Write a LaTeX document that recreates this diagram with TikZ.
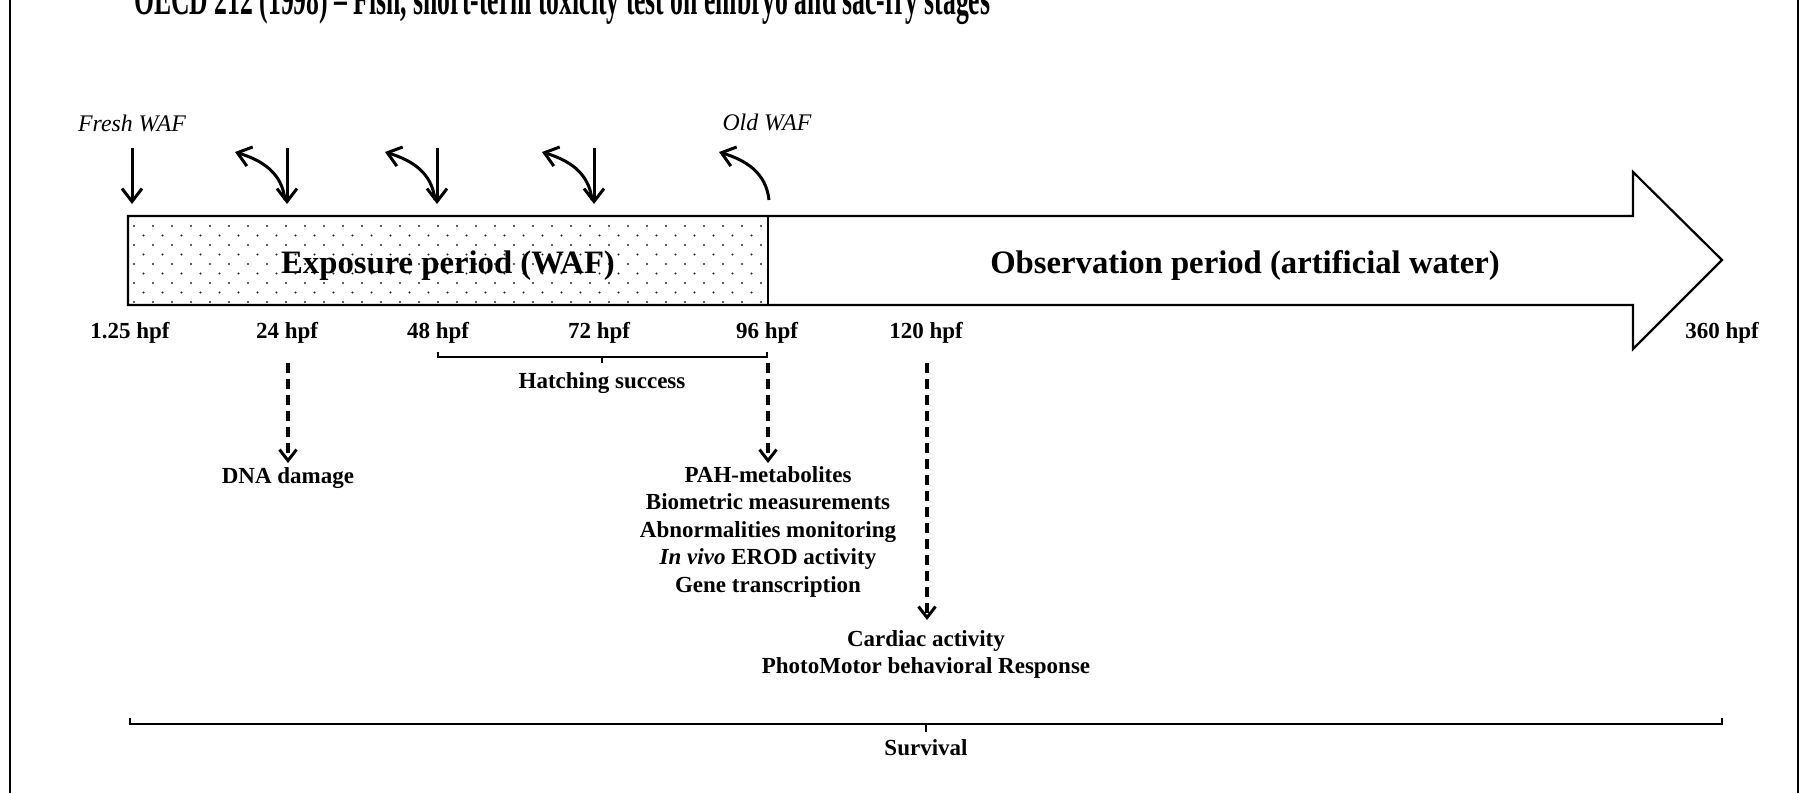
\documentclass[tikz,border=0pt]{standalone}
\usepackage{fontspec}
\setmainfont{Liberation Serif}
\usetikzlibrary{arrows.meta}
\begin{document}
\begin{tikzpicture}[x=1pt,y=-1pt,
  lbl/.style={font=\fontsize{23}{27.7}\selectfont\bfseries, inner sep=0pt, anchor=base},
  bigtxt/.style={font=\fontsize{32.7}{39}\selectfont\bfseries, inner sep=0pt, anchor=base},
  waf/.style={font=\fontsize{23.8}{28}\selectfont\itshape, inner sep=0pt, anchor=base},
  downarr/.style={line width=3pt, -{Straight Barb[length=13pt,width=20pt]}},
  backarr/.style={line width=3pt, -{Straight Barb[length=13pt,width=20pt]}},
  dasharr/.style={line width=3.4pt, dash pattern=on 10pt off 6pt, -{Straight Barb[length=11pt,width=17pt,line width=3pt]}},
  outline/.style={line width=2.2pt, line join=miter},
  bracketline/.style={line width=2.4pt},
  borderline/.style={line width=2.5pt}
]
\useasboundingbox (0,0) rectangle (1802,793);
\clip (0,0) rectangle (1802,793);

% frame side lines
\draw[borderline] (10,0) -- (10,793);
\draw[borderline] (1798,0) -- (1798,793);

% title (cut at top)
\node[inner sep=0pt, anchor=base west] (title) at (134,14)
  {\resizebox{856pt}{\height}{\fontsize{46}{54}\selectfont\bfseries OECD 212 (1998) -- Fish, short-term toxicity test on embryo and sac-fry stages}};

% dotted exposure box
\begin{scope}
\clip (128,216) rectangle (768,305);
\foreach \j in {0,...,8} {
  \pgfmathsetmacro\off{mod(\j,2)*9.5}
  \foreach \i in {0,...,34} {
    \fill[black!85] (134+\off+19*\i, 226+9.5*\j) circle (1.1);
  }
}
\end{scope}

% big arrow outline
\draw[outline] (128,216) -- (1633,216) -- (1633,172) -- (1722,260) -- (1633,349) -- (1633,305) -- (128,305) -- cycle;
\draw[outline] (768,216) -- (768,305);

\node[bigtxt] (expo) at (448,273) {Exposure period (WAF)};
\node[bigtxt] (obs) at (1245,273) {Observation period (artificial water)};

% WAF labels
\node[waf] (fresh) at (132,131) {Fresh WAF};
\node[waf] (old) at (767,130) {Old WAF};

% renewal arrows
\coordinate (f0a) at (132,148); \coordinate (f0b) at (132,204);
\coordinate (f24a) at (287,148); \coordinate (f24b) at (287,204);
\coordinate (f48a) at (437,148); \coordinate (f48b) at (437,204);
\coordinate (f72a) at (594,148); \coordinate (f72b) at (594,204);
\draw[downarr] (f0a) -- (f0b);
\draw[downarr] (f24a) -- (f24b);
\draw[downarr] (f48a) -- (f48b);
\draw[downarr] (f72a) -- (f72b);

\foreach \x/\n in {285/o24, 435/o48, 592/o72, 769/o96} {
  \coordinate (\n s) at (\x,200);
  \coordinate (\n e) at (\x-50,152);
  \draw[backarr] (\n s) .. controls (\x-3,172) and (\x-24,160) .. (\n e);
}

% time labels
\node[lbl] (t0) at (130,338) {1.25 hpf};
\node[lbl] (t24) at (287,338) {24 hpf};
\node[lbl] (t48) at (438,338) {48 hpf};
\node[lbl] (t72) at (599,338) {72 hpf};
\node[lbl] (t96) at (767,338) {96 hpf};
\node[lbl] (t120) at (926,338) {120 hpf};
\node[lbl] (t360) at (1722,338) {360 hpf};

% hatching bracket
\draw[bracketline] (438,352) -- (438,357) -- (767,357) -- (767,352);
\draw[bracketline] (602,357) -- (602,363);
\node[lbl] (hatch) at (602,388) {Hatching success};

% dashed arrows
\coordinate (d24a) at (288,363); \coordinate (d24b) at (288,463);
\coordinate (d96a) at (768,363); \coordinate (d96b) at (768,463);
\coordinate (d120a) at (927,363); \coordinate (d120b) at (927,620);
\draw[dasharr] (d24a) -- (d24b);
\draw[dasharr] (d96a) -- (d96b);
\draw[dasharr] (d120a) -- (d120b);

\node[lbl] (dna) at (288,483) {DNA damage};

\node[lbl] (m1) at (768,482) {PAH-metabolites};
\node[lbl] (m2) at (768,509.5) {Biometric measurements};
\node[lbl] (m3) at (768,537) {Abnormalities monitoring};
\node[lbl] (m4) at (768,564.5) {\textit{In vivo} EROD activity};
\node[lbl] (m5) at (768,592) {Gene transcription};

\node[lbl] (c1) at (926,646) {Cardiac activity};
\node[lbl] (c2) at (926,673.5) {PhotoMotor behavioral Response};

% survival bracket
\draw[line width=2.8pt] (130,718) -- (130,724) -- (1722,724) -- (1722,718);
\draw[line width=1.5pt] (926,724) -- (926,732);
\node[lbl] (surv) at (926,755) {Survival};
\end{tikzpicture}
\end{document}
